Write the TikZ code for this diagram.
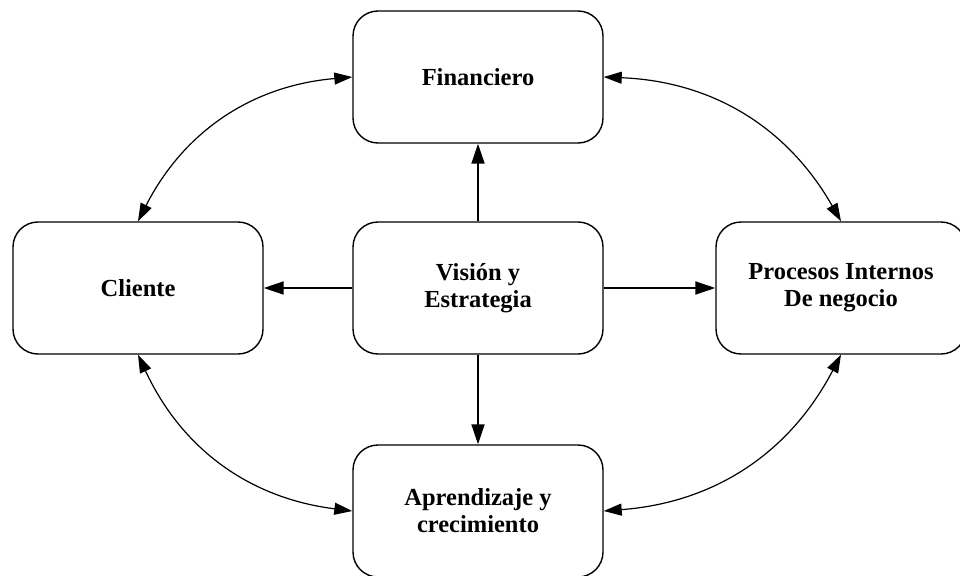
\documentclass[tikz,border=0pt]{standalone}
\usepackage{fontspec}
\setmainfont{Liberation Serif}
\usetikzlibrary{arrows.meta}
\begin{document}
\begin{tikzpicture}[x=1pt,y=-1pt,
  card/.style={draw, line width=1.4pt, rounded corners=25pt,
    minimum width=250pt, minimum height=132pt, align=center,
    font=\fontsize{24.5}{27}\selectfont\bfseries},
  mainarrow/.style={line width=1.8pt, -{Triangle[length=20pt,width=13pt]}},
  linkarrow/.style={line width=1.2pt, {Triangle[length=18pt,width=12pt]}-{Triangle[length=18pt,width=12pt]}}
]
\clip (0,0) rectangle (960,575);
\useasboundingbox (0,0) rectangle (960,575);

\node[card] (fin)  at (478,77)  {Financiero};
\node[card] (cli)  at (138,288) {Cliente};
\node[card] (vis)  at (478,288) {Visión y\\Estrategia};
\node[card] (pro)  at (841,288) {Procesos Internos\\De negocio};
\node[card] (apr)  at (478,511) {Aprendizaje y\\crecimiento};

% arrows out of the central box
\draw[mainarrow] (vis.north) -- (fin.south);
\draw[mainarrow] (vis.west)  -- (cli.east);
\draw[mainarrow] (vis.east)  -- (pro.west);
\draw[mainarrow] (vis.south) -- (apr.north);

% outer ring of two-way links
\draw[linkarrow] (cli.north) to[bend left=29]  (fin.west);
\draw[linkarrow] (fin.east)  to[bend left=29]  (pro.north);
\draw[linkarrow] (pro.south) to[bend left=29]  (apr.east);
\draw[linkarrow] (apr.west)  to[bend left=29]  (cli.south);
\end{tikzpicture}
\end{document}
